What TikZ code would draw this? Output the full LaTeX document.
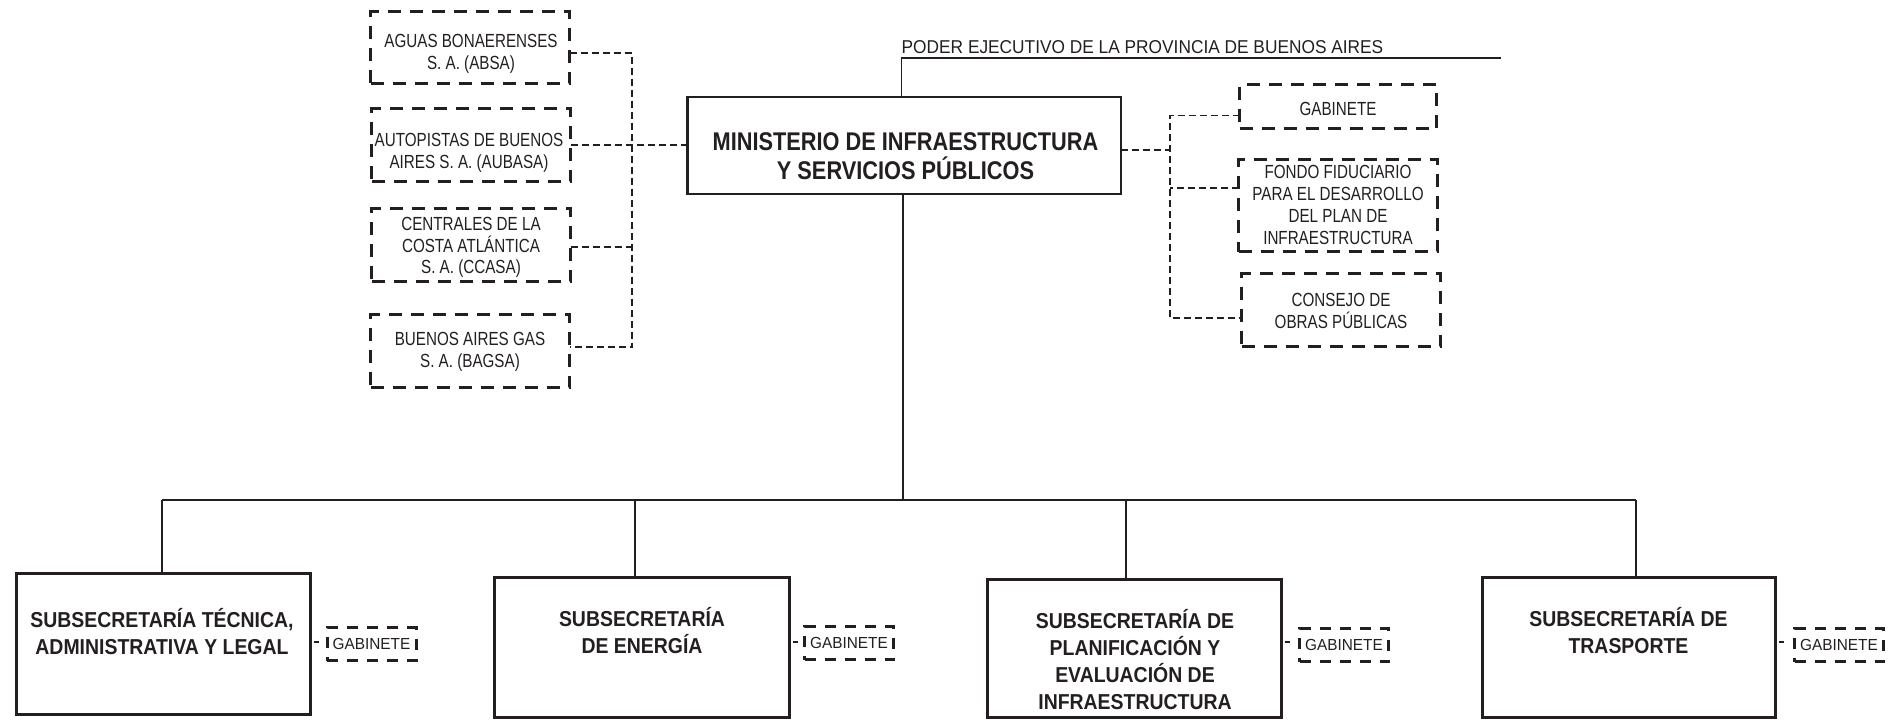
\documentclass[tikz,border=0pt]{standalone}
\usepackage{fontspec}
\setmainfont{Liberation Sans}
\newfontfamily\smallf[FakeStretch=0.8]{Liberation Sans}
\newfontfamily\poderf[FakeStretch=0.93]{Liberation Sans}
\newfontfamily\minf[FakeStretch=0.85]{Liberation Sans Bold}
\newfontfamily\subf[FakeStretch=0.9]{Liberation Sans Bold}
\newfontfamily\gabf[FakeStretch=0.96]{Liberation Sans}
\definecolor{ink}{HTML}{231F20}
\begin{document}
\begin{tikzpicture}[x=1pt,y=-1pt,
  every node/.style={inner sep=0pt, outer sep=0pt, text=ink},
  dbox/.style={draw=ink, line width=3pt, dash pattern=on 13pt off 9pt},
  sgbox/.style={draw=ink, line width=3pt, dash pattern=on 11pt off 9pt, minimum width=89pt, minimum height=33pt},
  sbox/.style={draw=ink, line width=3pt},
  mbox/.style={draw=ink, line width=2.5pt},
  conn/.style={draw=ink, line width=1.3pt, dash pattern=on 7pt off 4pt},
  stub/.style={draw=ink, line width=1.3pt, dash pattern=on 0pt off 3pt on 5pt off 30pt},
  tree/.style={draw=ink, line width=1.4pt},
  stxt/.style={font={\smallf\fontsize{19}{21.7}\selectfont}, align=center},
  subtxt/.style={font={\subf\fontsize{21.6}{27}\selectfont}, align=center},
  gtxt/.style={font={\gabf\fontsize{16}{19}\selectfont}}
]
\useasboundingbox (0,0) rectangle (1899,721);

% Poder ejecutivo
\node[font={\poderf\fontsize{18.6}{22}\selectfont}, anchor=base west] (poder) at (901.7,53.3) {PODER EJECUTIVO DE LA PROVINCIA DE BUENOS AIRES};
\coordinate (pe) at (901.7,58);
\coordinate (peend) at (1501,58);

% Ministerio
\node[mbox, minimum width=433.5pt, minimum height=96.8pt] (min) at (904,145.4) {};
\node[font={\minf\fontsize{25.6}{29}\selectfont}, align=center] (mint) at (905.5,156.4) {MINISTERIO DE INFRAESTRUCTURA\\Y SERVICIOS PÚBLICOS};

% Left group
\node[dbox, minimum width=199pt, minimum height=72pt] (absa) at (470,47.5) {};
\node[stxt] (absat) at (471,53.5) {AGUAS BONAERENSES\\S. A. (ABSA)};
\node[dbox, minimum width=199pt, minimum height=73pt] (aubasa) at (471,145) {};
\node[stxt] (aubasat) at (469,152.5) {AUTOPISTAS DE BUENOS\\AIRES S. A. (AUBASA)};
\node[dbox, minimum width=199pt, minimum height=73pt] (ccasa) at (471,245) {};
\node[stxt] (ccasat) at (471,247.5) {CENTRALES DE LA\\COSTA ATLÁNTICA\\S. A. (CCASA)};
\node[dbox, minimum width=199pt, minimum height=73pt] (bagsa) at (470,351) {};
\node[stxt] (bagsat) at (470,352) {BUENOS AIRES GAS\\S. A. (BAGSA)};

% Right group
\node[dbox, minimum width=197pt, minimum height=44pt] (gab) at (1338,106.5) {};
\node[stxt] (gabt) at (1338,109) {GABINETE};
\node[dbox, minimum width=199pt, minimum height=92pt] (fondo) at (1338,205.5) {};
\node[stxt] (fondot) at (1338,205) {FONDO FIDUCIARIO\\PARA EL DESARROLLO\\DEL PLAN DE\\INFRAESTRUCTURA};
\node[dbox, minimum width=199pt, minimum height=73pt] (cons) at (1341,310) {};
\node[stxt] (const) at (1341,311) {CONSEJO DE\\OBRAS PÚBLICAS};

% Subsecretarias
\node[sbox, minimum width=294pt, minimum height=141pt] (s1) at (163.5,644) {};
\node[subtxt] (s1t) at (162,632) {SUBSECRETARÍA TÉCNICA,\\ADMINISTRATIVA Y LEGAL};
\node[sbox, minimum width=295pt, minimum height=140pt] (s2) at (642,647.5) {};
\node[subtxt] (s2t) at (642,630.5) {SUBSECRETARÍA\\DE ENERGÍA};
\node[sbox, minimum width=294pt, minimum height=138pt] (s3) at (1134.5,648.5) {};
\node[subtxt] (s3t) at (1135,659.5) {SUBSECRETARÍA DE\\PLANIFICACIÓN Y\\EVALUACIÓN DE\\INFRAESTRUCTURA};
\node[sbox, minimum width=293pt, minimum height=140pt] (s4) at (1629,647.5) {};
\node[subtxt] (s4t) at (1628.5,630.5) {SUBSECRETARÍA DE\\TRASPORTE};

% Small gabinetes
\node[sgbox] (g1) at (371.5,644) {};
\node[gtxt] (g1t) at (371.5,644) {GABINETE};
\node[sgbox] (g2) at (849,643) {};
\node[gtxt] (g2t) at (849,643) {GABINETE};
\node[sgbox] (g3) at (1344,645) {};
\node[gtxt] (g3t) at (1344,645) {GABINETE};
\node[sgbox] (g4) at (1839,645) {};
\node[gtxt] (g4t) at (1839,645) {GABINETE};

% Tree connectors
\draw[tree] (min.north -| pe) -- (pe) -- (peend);
\coordinate (bm) at (903,500);
\coordinate (b1) at (162,500);
\coordinate (b2) at (635,500);
\coordinate (b3) at (1126,500);
\coordinate (b4) at (1636,500);
\draw[tree] (min.south -| bm) -- (bm);
\draw[tree] (b1) -- (b4);
\draw[tree] (b1) -- (b1 |- s1.north);
\draw[tree] (b2) -- (b2 |- s2.north);
\draw[tree] (b3) -- (b3 |- s3.north);
\draw[tree] (b4) -- (b4 |- s4.north);

% Left dashed connectors
\coordinate (lb) at (632,0);
\draw[conn] ([yshift=-5.5pt]absa.east) coordinate (a1) -- (a1 -| lb) -- ([yshift=4pt]bagsa.east -| lb) -- ([yshift=4pt]bagsa.east);
\draw[conn] (aubasa.east) -- (aubasa.east -| min.west);
\draw[conn] ([yshift=-2pt]ccasa.east) -- ([yshift=-2pt]ccasa.east -| lb);

% Right dashed connectors
\coordinate (rb) at (1170,0);
\draw[conn] ([yshift=-4.6pt]min.east) -- ([yshift=-4.6pt]min.east -| rb);
\draw[conn] ([yshift=-9pt]gab.west) -- ([yshift=-9pt]gab.west -| rb) -- ([yshift=-8pt]cons.west -| rb) -- ([yshift=-8pt]cons.west);
\draw[conn] ([yshift=17.5pt]fondo.west) -- ([yshift=17.5pt]fondo.west -| rb);

% Small gabinete stubs
\draw[stub] ([yshift=2pt]s1.east |- g1.west) -- ([yshift=2pt]g1.west);
\draw[stub] ([yshift=1pt]s2.east |- g2.west) -- ([yshift=1pt]g2.west);
\draw[stub] ([yshift=3pt]s3.east |- g3.west) -- ([yshift=3pt]g3.west);
\draw[stub] ([yshift=3pt]s4.east |- g4.west) -- ([yshift=3pt]g4.west);
\end{tikzpicture}
\end{document}
